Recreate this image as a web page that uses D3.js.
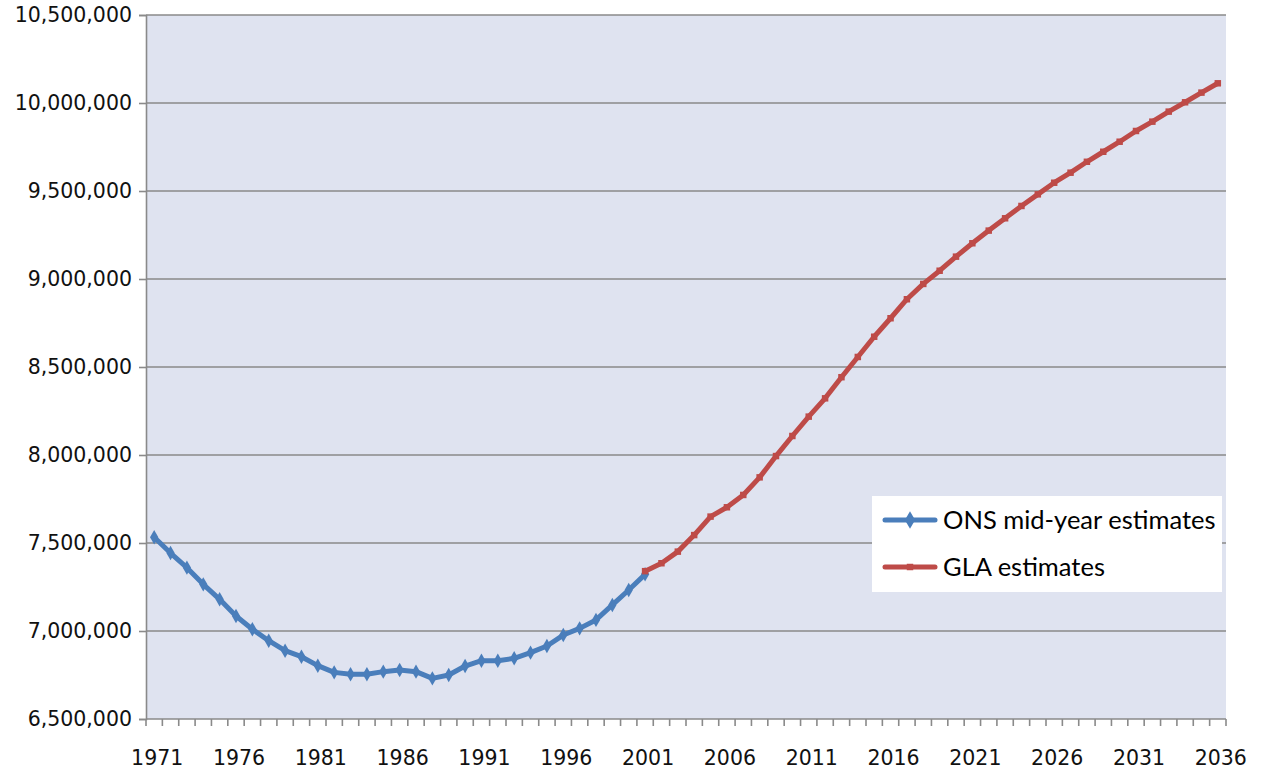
<!DOCTYPE html>
<html>
<head>
<meta charset="utf-8">
<script src="https://cdn.jsdelivr.net/npm/d3@7"></script>
<style>
  html, body { margin: 0; padding: 0; background: #fff; }
  svg { display: block; }
</style>
</head>
<body>
<svg width="1262" height="771"></svg>
<script>
// ONS mid-year estimates, 1971-2001
const onsYears = d3.range(1971, 2002);
const onsValues = [
  7533000, 7443000, 7360000, 7265000, 7180000, 7085000, 7010000, 6945000,
  6888000, 6854000, 6803000, 6765000, 6754000, 6754000, 6769000, 6778000,
  6769000, 6731000, 6750000, 6801000, 6831000, 6831000, 6845000, 6877000,
  6915000, 6977000, 7015000, 7063000, 7148000, 7233000, 7322000
];

// GLA estimates, 2001-2036
const glaYears = d3.range(2001, 2037);
const glaValues = [
  7340000, 7385000, 7451000, 7545000, 7650000, 7703000, 7773000, 7873000,
  7994000, 8108000, 8218000, 8322000, 8442000, 8557000, 8672000, 8777000,
  8885000, 8972000, 9047000, 9127000, 9203000, 9275000, 9345000, 9415000,
  9481000, 9547000, 9604000, 9666000, 9723000, 9780000, 9841000, 9894000,
  9951000, 10004000, 10059000, 10112000
];

const allYears = d3.range(1971, 2037);
const yTicks = d3.range(6500000, 10500001, 500000);
const xLabelYears = d3.range(1971, 2037, 5);

const series = [
  { name: 'ONS mid-year estimates', color: '#4a7ebb', marker: 'diamond',
    data: onsYears.map((y, i) => ({ year: y, value: onsValues[i] })) },
  { name: 'GLA estimates', color: '#be4b48', marker: 'square',
    data: glaYears.map((y, i) => ({ year: y, value: glaValues[i] })) }
];

const svg = d3.select('svg');
const margin = { top: 15, right: 36, bottom: 52, left: 146 };
const width = +svg.attr('width') - margin.left - margin.right;
const height = +svg.attr('height') - margin.top - margin.bottom;

const g = svg.append('g')
  .attr('transform', `translate(${margin.left},${margin.top})`);

const x = d3.scaleBand()
  .domain(allYears)
  .range([0, width]);

const y = d3.scaleLinear()
  .domain([6500000, 10500000])
  .range([height, 0]);

const cx = d => x(d) + x.bandwidth() / 2;

// plot background
g.append('rect')
  .attr('width', width)
  .attr('height', height)
  .attr('fill', '#dfe3f0');

// gridlines
g.append('g')
  .selectAll('line')
  .data(yTicks.slice(1))
  .enter().append('line')
    .attr('x1', 0)
    .attr('x2', width)
    .attr('y1', d => y(d))
    .attr('y2', d => y(d))
    .attr('stroke', '#8a8a8a')
    .attr('stroke-width', 1.6);

// y axis
const yAxis = g.append('g')
  .call(d3.axisLeft(y).tickValues(yTicks).tickSize(7).tickPadding(7)
    .tickFormat(d3.format(',')));
yAxis.select('.domain').attr('stroke', '#8a8a8a').attr('stroke-width', 1.6);
yAxis.selectAll('.tick line').attr('stroke', '#8a8a8a').attr('stroke-width', 1.6);
yAxis.selectAll('text')
  .attr('fill', '#111')
  .style('font-family', '"DejaVu Sans", sans-serif')
  .style('font-size', '20.5px');

// x axis: ticks at category boundaries
const xAxisG = g.append('g').attr('transform', `translate(0,${height})`);
xAxisG.append('line')
  .attr('x1', 0).attr('x2', width)
  .attr('stroke', '#8a8a8a').attr('stroke-width', 1.6);
xAxisG.selectAll('.tk')
  .data(allYears.concat([2037]))
  .enter().append('line')
    .attr('class', 'tk')
    .attr('x1', d => d === 2037 ? width : x(d))
    .attr('x2', d => d === 2037 ? width : x(d))
    .attr('y1', 0)
    .attr('y2', 7)
    .attr('stroke', '#8a8a8a')
    .attr('stroke-width', 1.6);
xAxisG.selectAll('text')
  .data(xLabelYears)
  .enter().append('text')
    .attr('x', d => cx(d) + 3)
    .attr('y', 46)
    .attr('text-anchor', 'middle')
    .attr('fill', '#111')
    .style('font-family', '"DejaVu Sans", sans-serif')
    .style('font-size', '20.5px')
    .text(d => d);

// lines and markers
const line = d3.line()
  .x(d => cx(d.year))
  .y(d => y(d.value));

const markerPath = (type, size) => type === 'diamond'
  ? d3.symbol().type(d3.symbolDiamond).size(size)()
  : d3.symbol().type(d3.symbolSquare).size(size)();

series.forEach(s => {
  g.append('path')
    .datum(s.data)
    .attr('fill', 'none')
    .attr('stroke', s.color)
    .attr('stroke-width', 5)
    .attr('stroke-linejoin', 'round')
    .attr('d', line);

  g.append('g')
    .selectAll('path')
    .data(s.data)
    .enter().append('path')
      .attr('transform', d => `translate(${cx(d.year)},${y(d.value)})`)
      .attr('d', markerPath(s.marker, s.marker === 'diamond' ? 60 : 42))
      .attr('fill', s.color);
});

// legend
const legend = svg.append('g').attr('transform', 'translate(872,496)');
legend.append('rect')
  .attr('width', 350)
  .attr('height', 96)
  .attr('fill', '#fff');

const items = legend.selectAll('.item')
  .data(series)
  .enter().append('g')
    .attr('class', 'item')
    .attr('transform', (d, i) => `translate(0,${24 + i * 47})`);

items.append('line')
  .attr('x1', 13).attr('x2', 63)
  .attr('stroke', d => d.color)
  .attr('stroke-width', 5)
  .attr('stroke-linecap', 'round');

items.append('path')
  .attr('transform', 'translate(38,0)')
  .attr('d', d => markerPath(d.marker, d.marker === 'diamond' ? 90 : 42))
  .attr('fill', d => d.color);

items.append('text')
  .attr('x', 71)
  .attr('dy', '0.35em')
  .attr('fill', '#000')
  .style('font-family', 'Lato, sans-serif')
  .style('font-size', '25.5px')
  .text(d => d.name);
</script>
</body>
</html>
